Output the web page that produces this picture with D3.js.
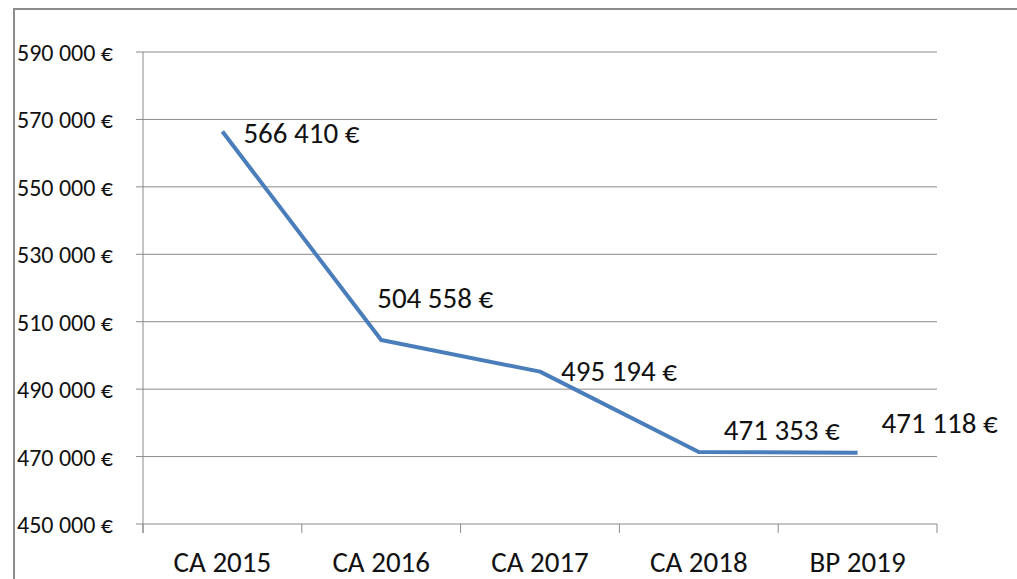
<!DOCTYPE html>
<html>
<head>
<meta charset="utf-8">
<script src="https://cdnjs.cloudflare.com/ajax/libs/d3/7.8.5/d3.min.js"></script>
<style>
  body { margin: 0; background: #fff; }
  svg text { font-family: Carlito, Calibri, "Noto Sans", sans-serif; fill: #111; }
</style>
</head>
<body>
<div id="chart"></div>
<script>
// donnees
const categories = ["CA 2015", "CA 2016", "CA 2017", "CA 2018", "BP 2019"]
const valeurs = [566410, 504558, 495194, 471353, 471118]
const yTicks = [450000, 470000, 490000, 510000, 530000, 550000, 570000, 590000]
// decalage des etiquettes (dx, dy de la ligne de base) par rapport au point
const decalages = [[21, 11.5], [-4, -32], [21, 9.5], [25, -12], [24, -20]]

const width = 1017, height = 579
const margin = { top: 52, right: 80, bottom: 55, left: 143 }

const svg = d3.select("#chart").append("svg")
  .attr("width", width)
  .attr("height", height)

// cadre
svg.append("rect")
  .attr("x", 14).attr("y", 9)
  .attr("width", width + 20).attr("height", height + 20)
  .attr("fill", "none")
  .attr("stroke", "#8c8c8c")
  .attr("stroke-width", 2)

const x = d3.scaleBand()
  .domain(categories)
  .range([margin.left, 937])

const y = d3.scaleLinear()
  .domain([450000, 590000])
  .range([524, margin.top])

const fmt = v => d3.format(",")(v).replace(/,/g, "\u202f")

// grille horizontale
svg.append("g")
  .selectAll("line")
  .data(yTicks)
  .join("line")
  .attr("x1", 136).attr("x2", 937)
  .attr("y1", d => y(d)).attr("y2", d => y(d))
  .attr("stroke", "#8a8a8a")
  .attr("stroke-width", 1)

// axe y
svg.append("line")
  .attr("x1", margin.left).attr("x2", margin.left)
  .attr("y1", y(590000)).attr("y2", 533)
  .attr("stroke", "#8a8a8a")

svg.append("g")
  .selectAll("text")
  .data(yTicks)
  .join("text")
  .attr("x", 17)
  .attr("y", d => y(d) + 9)
  .attr("font-size", 24)
  .style("letter-spacing", "-0.1px")
  .text(d => fmt(d) + " €")

// axe x
const bords = categories.map(c => x(c)).concat([x(categories[categories.length - 1]) + x.bandwidth()])
svg.append("g")
  .selectAll("line")
  .data(bords)
  .join("line")
  .attr("x1", d => d).attr("x2", d => d)
  .attr("y1", 524).attr("y2", 533)
  .attr("stroke", "#8a8a8a")

svg.append("g")
  .selectAll("text")
  .data(categories)
  .join("text")
  .attr("x", d => x(d) + x.bandwidth() / 2)
  .attr("y", 572)
  .attr("text-anchor", "middle")
  .attr("font-size", 29)
  .text(d => d)

// ligne
const ligne = d3.line()
  .x((d, i) => x(categories[i]) + x.bandwidth() / 2)
  .y(d => y(d))

svg.append("path")
  .datum(valeurs)
  .attr("d", ligne)
  .attr("fill", "none")
  .attr("stroke", "#4a7ebb")
  .attr("stroke-width", 4)
  .attr("stroke-linejoin", "round")

// etiquettes
svg.append("g")
  .selectAll("text")
  .data(valeurs)
  .join("text")
  .attr("x", (d, i) => x(categories[i]) + x.bandwidth() / 2 + decalages[i][0])
  .attr("y", (d, i) => y(d) + decalages[i][1])
  .attr("font-size", 29)
  .text(d => fmt(d) + " €")
</script>
</body>
</html>
